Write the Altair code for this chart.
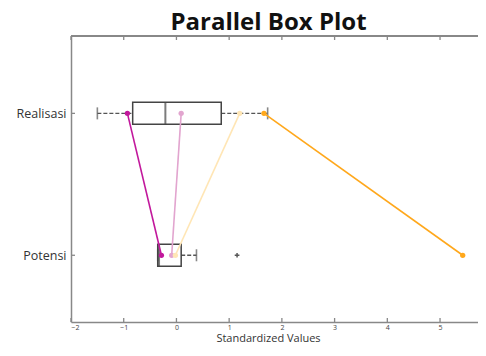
import altair as alt
import pandas as pd

# ---- data ----
categories = ["Realisasi", "Potensi"]
cat_pos = [2, 1]
q1 = [-0.83, -0.355]
median = [-0.21, -0.33]
q3 = [0.85, 0.09]
whisker_lo = [-1.5, -0.355]
whisker_hi = [1.73, 0.38]

outlier_cat = ["Potensi"]
outlier_val = [1.15]

series_names = ["Seri 1", "Seri 2", "Seri 3", "Seri 4"]
series_realisasi = [-0.93, 0.09, 1.20, 1.66]
series_potensi = [-0.285, -0.09, -0.02, 5.43]
series_colors = ["#C2189C", "#E2A5CF", "#FFE6B5", "#FFA81C"]

x_ticks = [-2, -1, 0, 1, 2, 3, 4, 5]

W, H = 407, 286
FONT = "Open Sans"

pos_of = dict(zip(categories, cat_pos))

box_df = pd.DataFrame({
    "cat": categories, "pos": cat_pos, "q1": q1, "median": median,
    "q3": q3, "lo": whisker_lo, "hi": whisker_hi,
})
out_df = pd.DataFrame({"pos": [pos_of[c] for c in outlier_cat], "val": outlier_val})

rows = []
for n, r, p in zip(series_names, series_realisasi, series_potensi):
    rows.append({"series": n, "cat": "Realisasi", "pos": pos_of["Realisasi"], "val": r})
    rows.append({"series": n, "cat": "Potensi", "pos": pos_of["Potensi"], "val": p})
ser_df = pd.DataFrame(rows)
tick_df = pd.DataFrame({"t": x_ticks})
ytick_df = pd.DataFrame({"pos": cat_pos})

label_expr = " : ".join(
    [f"datum.value == {p} ? '{c}'" for c, p in zip(categories, cat_pos)] + ["''"]
)

xscale = alt.Scale(domain=[-2, 5.72], nice=False, zero=False)
yscale = alt.Scale(domain=[0.565, 2.51], nice=False, zero=False)

X = lambda f: alt.X(f"{f}:Q", scale=xscale, axis=alt.Axis(
    values=x_ticks, ticks=False, grid=False, labelFontSize=7, labelColor="#444",
    labelPadding=1, domainColor="#888", domainWidth=1.5,
    title="Standardized Values", titleFontSize=11, titleFontWeight="normal",
    titleColor="#333", titlePadding=2.5, titleFont=FONT, labelFont=FONT, titleX=197))
Y = alt.Y("pos:Q", scale=yscale, axis=alt.Axis(
    values=cat_pos, labelExpr=label_expr, ticks=False, grid=False, labelFontSize=12.5,
    labelColor="#333", labelPadding=5, domainColor="#888", domainWidth=1.5,
    title=None, labelFont=FONT))

base_box = alt.Chart(box_df)

whisk_l = base_box.mark_rule(color="#555", strokeWidth=1.4, strokeDash=[4, 2]).encode(
    x=X("lo"), x2="q1", y=Y)
whisk_r = base_box.mark_rule(color="#555", strokeWidth=1.4, strokeDash=[4, 2]).encode(
    x=X("q3"), x2="hi", y=Y)
cap_l = base_box.mark_tick(color="#555", size=12, thickness=1.6, orient="vertical").encode(
    x=X("lo"), y=Y)
cap_r = base_box.mark_tick(color="#555", size=12, thickness=1.6, orient="vertical").encode(
    x=X("hi"), y=Y)
box = base_box.mark_bar(size=22, orient="horizontal", fill="white", fillOpacity=0,
                        stroke="#444", strokeWidth=1.5).encode(x=X("q1"), x2="q3", y=Y)
med = base_box.mark_tick(color="#444", size=22, thickness=2, orient="vertical").encode(
    x=X("median"), y=Y)

outl = alt.Chart(out_df).mark_point(shape="M-1,0L1,0M0,-1L0,1", size=22, stroke="#111",
                                    strokeWidth=1.5, filled=False).encode(x=X("val"), y=Y)

color = alt.Color("series:N", scale=alt.Scale(domain=series_names, range=series_colors),
                  legend=None)
lines = alt.Chart(ser_df).mark_line(strokeWidth=1.6).encode(
    x=X("val"), y=Y, color=color, detail="series:N")
pts = alt.Chart(ser_df).mark_circle(size=28, opacity=1).encode(x=X("val"), y=Y, color=color)

# inward ticks and top frame line
bt = alt.Chart(tick_df).mark_rule(color="#888", strokeWidth=1.3).encode(
    x=X("t"), y=alt.value(H - 4), y2=alt.value(H))
tt = alt.Chart(tick_df).mark_rule(color="#888", strokeWidth=1.3).encode(
    x=X("t"), y=alt.value(0), y2=alt.value(4))
lt = alt.Chart(ytick_df).mark_rule(color="#888", strokeWidth=1.3).encode(
    y=Y, x=alt.value(0), x2=alt.value(4))
top = alt.Chart(tick_df).mark_rule(color="#888", strokeWidth=1.5).encode(
    x=alt.value(0), x2=alt.value(W), y=alt.value(0))

chart = alt.layer(top, bt, tt, lt, whisk_l, whisk_r, cap_l, cap_r, box, med, outl,
                  lines, pts).properties(
    width=W, height=H,
    title=alt.TitleParams("Parallel Box Plot", fontSize=24, fontWeight="bold",
                          font=FONT, color="#111", offset=0, dx=-6),
    autosize="none",
    padding={"left": 63, "top": 28, "right": 0, "bottom": 22},
).configure_view(stroke="transparent")

chart.save("out.html", embed_options={"renderer": "svg", "actions": False})
